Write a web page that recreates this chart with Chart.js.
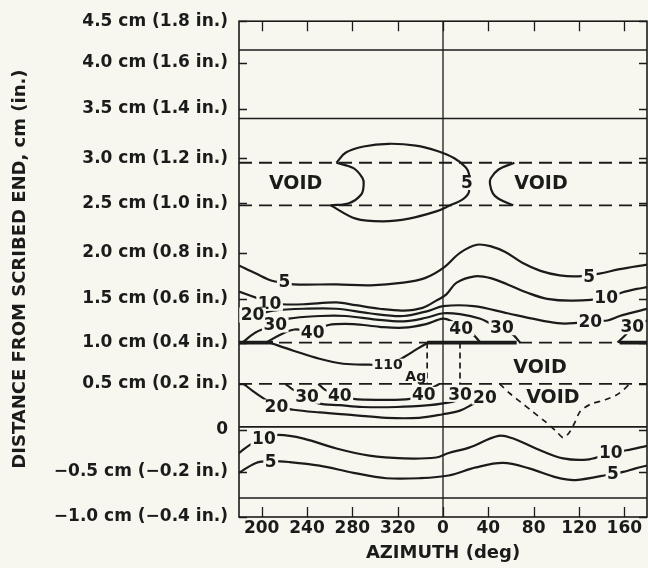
<!DOCTYPE html>
<html><head><meta charset="utf-8">
<script src="https://cdn.jsdelivr.net/npm/chart.js@4.4.1/dist/chart.umd.min.js"></script>
<style>html,body{margin:0;padding:0;background:#f7f7f0;}canvas{display:block;}</style>
</head><body>
<canvas id="c" width="648" height="568"></canvas>
<script>
// ---------------- data ----------------
// azimuth is unwrapped: 180..540 deg (labels shown modulo 360)
const xTickValues = [200, 240, 280, 320, 360, 400, 440, 480, 520];
const yTickAt = [4.5, 4.04, 3.53, 2.98, 2.48, 1.93, 1.42, 0.935, 0.48, -0.03, -0.5, -1.0];
const yTickText = ['4.5 cm (1.8 in.)', '4.0 cm (1.6 in.)', '3.5 cm (1.4 in.)', '3.0 cm (1.2 in.)',
  '2.5 cm (1.0 in.)', '2.0 cm (0.8 in.)', '1.5 cm (0.6 in.)', '1.0 cm (0.4 in.)',
  '0.5 cm (0.2 in.)', '0', '\u22120.5 cm (\u22120.2 in.)', '\u22121.0 cm (\u22120.4 in.)'];

const boundaryLevels = [4.18, 3.42, 0, -0.79];          // solid horizontal lines
const voidLevels = [2.93, 2.457, 0.935, 0.477];          // dashed horizontal lines
const thickSpans = [[180, 210], [346, 425], [516, 540]]; // along the 0.935 line
const agBoxAz = [346, 375];                               // dashed verticals of the Ag box
const azZero = 360;

const contour5Upper = [[180,1.79],[195,1.70],[209,1.62],[220,1.60],[228,1.58],[266,1.58],[296,1.57],[325,1.60],[344,1.65],[360,1.76],[375,1.93],[390,2.02],[403,2.00],[415,1.94],[430,1.82],[446,1.73],[463,1.68],[479,1.67],[498,1.70],[516,1.75],[540,1.80]];
const contour10Upper = [[180,1.50],[198,1.42],[207,1.38],[218,1.36],[237,1.36],[266,1.38],[283,1.35],[304,1.31],[325,1.29],[342,1.32],[354,1.40],[363,1.47],[372,1.60],[388,1.67],[402,1.65],[417,1.58],[434,1.49],[452,1.42],[475,1.40],[504,1.43],[518,1.49],[531,1.53],[540,1.55]];
const contour20Upper = [[180,1.22],[192,1.24],[201,1.26],[210,1.29],[237,1.31],[266,1.31],[295,1.26],[325,1.23],[348,1.29],[360,1.34],[387,1.34],[417,1.26],[439,1.20],[461,1.15],[475,1.15],[490,1.18],[505,1.18],[516,1.23],[534,1.29],[540,1.31]];
const contour30Upper = [[183,0.935],[195,1.05],[212,1.13],[224,1.20],[252,1.23],[274,1.23],[301,1.19],[325,1.17],[345,1.21],[360,1.26],[375,1.25],[393,1.20],[403,1.14],[412,1.10],[422,1.02],[428,0.935]];
const contour40Upper = [[204,0.935],[216,1.02],[229,1.08],[245,1.06],[259,1.13],[281,1.14],[304,1.11],[325,1.10],[345,1.14],[360,1.20],[368,1.17],[376,1.09],[386,1.03],[393,0.935]];
const contour30Right = [[514,0.935],[521,1.02],[527,1.10],[534,1.15],[540,1.18]];
const contour110 = [[207,0.935],[228,0.845],[251,0.755],[272,0.70],[295,0.69],[312,0.69],[325,0.77],[338,0.87],[347,0.935]];
const contour20Lower = [[184,0.477],[192,0.40],[200,0.33],[213,0.23],[228,0.19],[251,0.16],[281,0.13],[310,0.10],[339,0.10],[360,0.14],[375,0.18],[386,0.25],[397,0.33]];
const contour30Lower = [[221,0.477],[228,0.41],[240,0.34],[250,0.26],[269,0.24],[289,0.22],[319,0.22],[348,0.24],[360,0.26],[371,0.29],[375,0.36]];
const contour40Lower = [[250,0.477],[256,0.41],[269,0.35],[281,0.31],[304,0.30],[331,0.31],[343,0.36],[353,0.45],[357,0.477]];
const contour10Bottom = [[180,-0.29],[192,-0.18],[202,-0.13],[215,-0.09],[237,-0.13],[266,-0.24],[295,-0.32],[325,-0.35],[354,-0.34],[365,-0.29],[383,-0.23],[409,-0.10],[422,-0.13],[442,-0.24],[466,-0.35],[489,-0.36],[508,-0.29],[522,-0.26],[540,-0.21]];
const contour5Bottom = [[180,-0.51],[195,-0.40],[208,-0.38],[224,-0.39],[251,-0.43],[281,-0.51],[310,-0.57],[339,-0.57],[365,-0.54],[389,-0.45],[413,-0.40],[436,-0.46],[460,-0.56],[477,-0.59],[510,-0.52],[519,-0.50],[530,-0.46],[540,-0.43]];
const contour5Loop = [[266,2.93],[274,3.04],[290,3.11],[312,3.14],[336,3.12],[355,3.06],[370,2.98],[380,2.88],[383,2.80],[381,2.71],[383,2.61],[378,2.53],[365,2.45],[354,2.39],[330,2.31],[307,2.28],[283,2.31],[261,2.457]];
const voidEdgeLeft = [[266,2.93],[281,2.87],[289,2.76],[290,2.69],[288,2.58],[277,2.48],[261,2.457]];
const voidEdgeRight = [[423,2.93],[409,2.855],[402,2.755],[401.5,2.69],[404,2.59],[409,2.53],[422,2.457]];
const voidEdgeLower = [[410,0.477],[419,0.37],[428,0.28],[439,0.17],[450,0.06],[460,-0.05],[466,-0.12],[471,-0.07],[476,0.04],[481,0.17],[490,0.25],[503,0.30],[514,0.36],[525,0.477]];

const contourLabels = [
  [220,1.61,'5'],[489,1.67,'5'],[381,2.71,'5'],[208,-0.38,'5'],[510,-0.52,'5'],
  [207,1.37,'10'],[504,1.43,'10'],[202,-0.13,'10'],[508,-0.29,'10'],
  [192,1.24,'20'],[490,1.17,'20'],[213,0.22,'20'],[397,0.33,'20'],
  [212,1.13,'30'],[412,1.10,'30'],[527,1.11,'30'],[240,0.34,'30'],[375,0.36,'30'],
  [245,1.05,'40'],[376,1.09,'40'],[269,0.35,'40'],[343,0.36,'40']
];
const voidLabels = [[230,2.70],[446.5,2.70],[445.6,0.668],[457,0.336]];
const isotopeLabel = [[311.5,0.69,'110'],[336,0.557,'Ag']];

// ---------------- styling & chart ----------------
const paper = '#f7f7f0';
const ink = '#1b1b1b';
const FONT = "'DejaVu Sans', 'Liberation Sans', sans-serif";
const pts = a => a.map(([x, y]) => ({x, y}));

function line(data, width, dash, tension) {
  return {data: pts(data), showLine: true, borderColor: ink, borderWidth: width,
    borderDash: dash || [], pointRadius: 0, tension: tension || 0, fill: false,
    borderCapStyle: 'butt', borderJoinStyle: 'round'};
}

const datasets = [];
datasets.push(line([[azZero, -1.0], [azZero, 4.5]], 1.3));
boundaryLevels.forEach(v => datasets.push(line([[180, v], [540, v]], 1.6)));
voidLevels.forEach(v => datasets.push(line([[180, v], [540, v]], 1.8, [13, 7])));
thickSpans.forEach(s => datasets.push(line([[s[0], 0.935], [s[1], 0.935]], 3.8)));
agBoxAz.forEach(a => datasets.push(line([[a, 0.935], [a, 0.477]], 1.7, [6, 4])));
[contour5Upper, contour10Upper, contour20Upper, contour30Upper, contour40Upper, contour30Right,
 contour110, contour20Lower, contour30Lower, contour40Lower, contour10Bottom, contour5Bottom,
 contour5Loop, voidEdgeLeft, voidEdgeRight].forEach(c => datasets.push(line(c, 2.2, null, 0.35)));
datasets.push(line(voidEdgeLower, 1.7, [6, 5], 0.3));

const overlay = {
  id: 'overlay',
  beforeDraw(chart) {
    const {ctx, width, height} = chart;
    ctx.save(); ctx.fillStyle = paper; ctx.fillRect(0, 0, width, height); ctx.restore();
  },
  afterDatasetsDraw(chart) {
    const {ctx, chartArea: a, scales: {x, y}} = chart;
    ctx.save();
    ctx.strokeStyle = ink;
    ctx.lineWidth = 1.6;
    ctx.strokeRect(a.left, a.top, a.right - a.left, a.bottom - a.top);
    ctx.lineWidth = 1.3;
    ctx.beginPath();
    xTickValues.forEach(v => {
      const px = Math.round(x.getPixelForValue(v)) + 0.5;
      ctx.moveTo(px, a.top); ctx.lineTo(px, a.top + 10);
      ctx.moveTo(px, a.bottom); ctx.lineTo(px, a.bottom - 10);
    });
    yTickAt.forEach(v => {
      const py = Math.round(y.getPixelForValue(v)) + 0.5;
      ctx.moveTo(a.left, py); ctx.lineTo(a.left + 8, py);
      ctx.moveTo(a.right, py); ctx.lineTo(a.right - 8, py);
    });
    ctx.stroke();

    ctx.textAlign = 'center';
    ctx.textBaseline = 'middle';
    ctx.font = 'bold 17px ' + FONT;
    contourLabels.forEach(([xv, yv, t]) => {
      const px = x.getPixelForValue(xv), py = y.getPixelForValue(yv);
      const w = ctx.measureText(t).width;
      ctx.fillStyle = paper; ctx.fillRect(px - w / 2 - 1.5, py - 7.5, w + 3, 15);
      ctx.fillStyle = ink; ctx.fillText(t, px, py + 1);
    });
    ctx.font = 'bold 14px ' + FONT;
    isotopeLabel.forEach(([xv, yv, t]) => {
      const px = x.getPixelForValue(xv), py = y.getPixelForValue(yv);
      const w = ctx.measureText(t).width;
      ctx.fillStyle = paper; ctx.fillRect(px - w / 2 - 1, py - 6, w + 2, 12);
      ctx.fillStyle = ink; ctx.fillText(t, px, py + 1);
    });
    ctx.font = 'bold 19px ' + FONT;
    ctx.fillStyle = ink;
    voidLabels.forEach(([xv, yv]) => {
      ctx.fillText('VOID', x.getPixelForValue(xv), y.getPixelForValue(yv) + 1);
    });
    ctx.restore();
  }
};

new Chart(document.getElementById('c'), {
  type: 'scatter',
  data: {datasets},
  plugins: [overlay],
  options: {
    responsive: false,
    animation: false,
    events: [],
    layout: {padding: {top: 19, right: 1, bottom: 0, left: 0}},
    plugins: {legend: {display: false}, tooltip: {enabled: false}},
    scales: {
      x: {
        type: 'linear', min: 180, max: 540,
        afterBuildTicks: s => { s.ticks = xTickValues.map(v => ({value: v})); },
        afterFit: s => { s.height = 51; },
        grid: {display: false, drawTicks: false},
        border: {display: false},
        ticks: {autoSkip: false, maxRotation: 0, padding: 1, color: ink,
          font: {family: FONT, size: 17, weight: 'bold'},
          callback: v => String(v % 360)},
        title: {display: true, text: 'AZIMUTH (deg)', color: ink,
          font: {family: FONT, size: 18, weight: 'bold'}, padding: {top: 0, bottom: 4}}
      },
      y: {
        type: 'linear', min: -1.0, max: 4.5,
        afterBuildTicks: s => { s.ticks = yTickAt.map(v => ({value: v})); },
        afterFit: s => { s.width = 239; },
        grid: {display: false, drawTicks: false},
        border: {display: false},
        ticks: {autoSkip: false, padding: 11, color: ink,
          font: {family: FONT, size: 17, weight: 'bold'},
          callback: (v, i) => yTickText[i]},
        title: {display: true, text: 'DISTANCE FROM SCRIBED END, cm (in.)', color: ink,
          font: {family: FONT, size: 18, weight: 'bold'}, padding: {top: 10, bottom: 0}}
      }
    }
  }
});
</script>
</body></html>
